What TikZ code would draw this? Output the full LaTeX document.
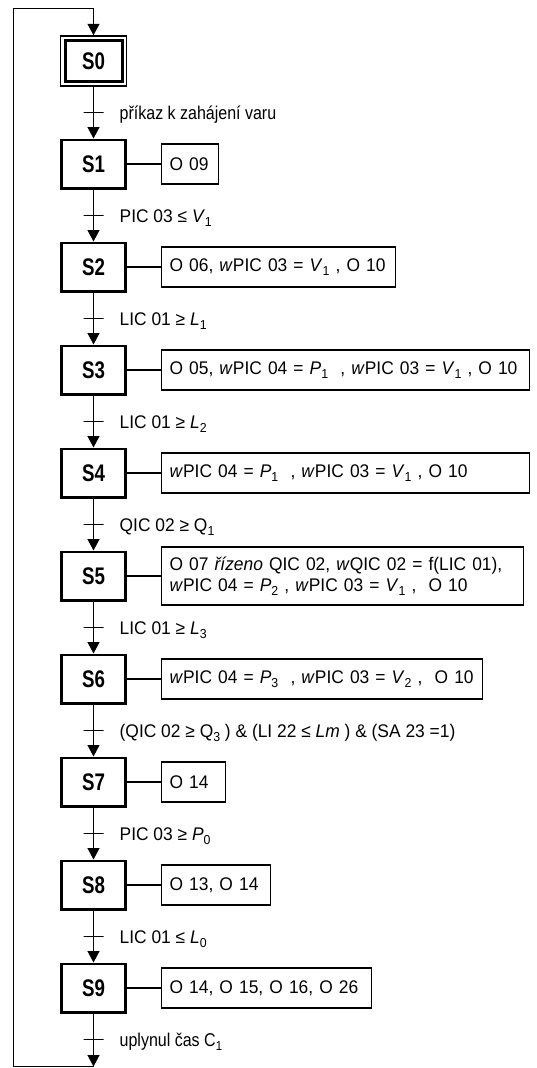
\documentclass[tikz,border=0pt]{standalone}
\usepackage{fontspec}
\setmainfont[FakeStretch=0.95]{Liberation Sans}
\newfontfamily\narrowfont[FakeStretch=0.865]{Liberation Sans}
\newfontfamily\stepfont[FakeStretch=0.78]{Liberation Sans}
\usetikzlibrary{positioning,arrows.meta}
\newcommand{\ix}[1]{\raisebox{-0.45ex}{\fontsize{13pt}{13pt}\selectfont #1}}

\begin{document}
\begin{tikzpicture}[node distance=103pt, line width=1.2pt, >={Triangle[width=12pt,length=11.5pt]},
	stepbox/.style={rectangle, draw, line width=2.7pt, minimum width=64.3pt, minimum height=48.3pt, font=\stepfont\bfseries\fontsize{24pt}{24pt}\selectfont},
	action/.style={rectangle, draw, line width=1.2pt, minimum height=40pt, inner xsep=8pt, text width=#1, align=left, font=\fontsize{18.3pt}{21pt}\selectfont},
	trans/.style={rectangle, draw, line width=1.2pt, minimum width=20pt, minimum height=0pt, inner sep=0pt, node distance=51.5pt},
	cond/.style={inner sep=0pt, xshift=15pt, text height=13pt, text depth=0pt, font=\fontsize{18.3pt}{21pt}\selectfont},
	ncond/.style={cond, font=\narrowfont\fontsize{18.5pt}{21pt}\selectfont}]
		\useasboundingbox (0,0) rectangle (537pt,-1068pt);

		% Initial step
		\node (s0) [stepbox, line width=1.5pt, minimum width=66pt, minimum height=50pt] at (93.5pt,-61pt) {S0};
		\node (s0in) [draw, line width=3pt, minimum width=57pt, minimum height=41pt] at (s0) {};

		% Steps
		\node (s1) [stepbox, below of=s0] {S1};
		\node (s2) [stepbox, below of=s1] {S2};
		\node (s3) [stepbox, below of=s2] {S3};
		\node (s4) [stepbox, below of=s3] {S4};
		\node (s5) [stepbox, below of=s4] {S5};
		\node (s6) [stepbox, below of=s5] {S6};
		\node (s7) [stepbox, below of=s6] {S7};
		\node (s8) [stepbox, below of=s7] {S8};
		\node (s9) [stepbox, below of=s8] {S9};

		% Actions
		\node (a1) [action=41pt, right=34pt of s1] {O 09};
		\node (a2) [action=218pt, right=34pt of s2] {O 06, \textit{w}PIC 03 = \textit{V}\ix{1} , O 10};
		\node (a3) [action=352pt, right=34pt of s3] {O 05, \textit{w}PIC 04 = \textit{P}\ix{1}\ \ , \textit{w}PIC 03 = \textit{V}\ix{1} , O 10};
		\node (a4) [action=352pt, right=34pt of s4] {\textit{w}PIC 04 = \textit{P}\ix{1}\ \ , \textit{w}PIC 03 = \textit{V}\ix{1} , O 10};
		\node (a5) [action=346pt, right=34pt of s5, minimum height=58pt] {O 07 \textit{řízeno} QIC 02, \textit{w}QIC 02 = f(LIC 01),\\ \textit{w}PIC 04 = \textit{P}\ix{2} , \textit{w}PIC 03 = \textit{V}\ix{1} ,\ \ O 10};
		\node (a6) [action=305pt, right=34pt of s6] {\textit{w}PIC 04 = \textit{P}\ix{3}\ \ , \textit{w}PIC 03 = \textit{V}\ix{2} ,\ \ O 10};
		\node (a7) [action=48pt, right=34pt of s7] {O 14};
		\node (a8) [action=93pt, right=34pt of s8] {O 13, O 14};
		\node (a9) [action=194pt, right=34pt of s9] {O 14, O 15, O 16, O 26};

		% Transitions
		\node (t1) [trans, below of=s0, label={[ncond]right:příkaz k zahájení varu}] {};
		\node (t2) [trans, below of=s1, label={[cond]right:PIC 03 ≤ \textit{V}\ix{1}}] {};
		\node (t3) [trans, below of=s2, label={[cond]right:LIC 01 ≥ \textit{L}\ix{1}}] {};
		\node (t4) [trans, below of=s3, label={[cond]right:LIC 01 ≥ \textit{L}\ix{2}}] {};
		\node (t5) [trans, below of=s4, label={[cond]right:QIC 02 ≥ Q\ix{1}}] {};
		\node (t6) [trans, below of=s5, label={[cond]right:LIC 01 ≥ \textit{L}\ix{3}}] {};
		\node (t7) [trans, below of=s6, label={[cond]right:(QIC 02 ≥ Q\ix{3} ) \& (LI 22 ≤ \textit{Lm} ) \& (SA 23 =1)}] {};
		\node (t8) [trans, below of=s7, label={[cond]right:PIC 03 ≥ \textit{P}\ix{0}}] {};
		\node (t9) [trans, below of=s8, label={[cond]right:LIC 01 ≤ \textit{L}\ix{0}}] {};
		\node (t10) [trans, below of=s9, label={[ncond]right:uplynul čas C\ix{1}}] {};

		% Loop corners
		\node (bot) [coordinate, below of=s9, node distance=78.5pt] {};
		\node (top) [coordinate, above of=s0, node distance=52.7pt] {};

		% Arrows
		\draw[->] (s0) -- (s1);
		\draw[->] (s1) -- (s2);
		\draw[->] (s2) -- (s3);
		\draw[->] (s3) -- (s4);
		\draw[->] (s4) -- (s5);
		\draw[->] (s5) -- (s6);
		\draw[->] (s6) -- (s7);
		\draw[->] (s7) -- (s8);
		\draw[->] (s8) -- (s9);
		\draw[->] (s9) -- (bot);
		\draw[->] (bot) -- ++(-80pt,0) |- (top) -- (s0);

		% Links to actions
		\draw (s1) -- (a1);
		\draw (s2) -- (a2);
		\draw (s3) -- (a3);
		\draw (s4) -- (a4);
		\draw (s5) -- (a5);
		\draw (s6) -- (a6);
		\draw (s7) -- (a7);
		\draw (s8) -- (a8);
		\draw (s9) -- (a9);
	\end{tikzpicture}
\end{document}
